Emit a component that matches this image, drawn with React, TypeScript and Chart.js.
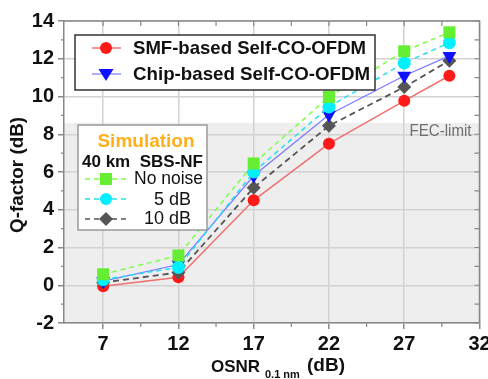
import React, { useEffect, useRef } from "react";
import { Chart, registerables } from "chart.js";

Chart.register(...registerables);

const osnr = [7, 12, 17, 22, 27, 30];
const smfQ = [-0.05, 0.42, 4.5, 7.5, 9.77, 11.1];
const chipQ = [0.22, 1.1, 5.8, 9.03, 11.1, 12.15];
const noNoiseQ = [0.58, 1.58, 6.45, 9.98, 12.4, 13.4];
const nf5Q = [0.3, 0.95, 6.0, 9.45, 11.78, 12.85];
const nf10Q = [0.14, 0.68, 5.17, 8.45, 10.5, 11.9];
const xTicks = [7, 12, 17, 22, 27, 32];
const fecLimit = 8.6;

const FONT = "'Liberation Sans', Arial, sans-serif";

function marker(ctx: CanvasRenderingContext2D, kind: string, x: number, y: number, color: string) {
  ctx.save();
  ctx.fillStyle = color;
  ctx.beginPath();
  if (kind === "circle") {
    ctx.arc(x, y, 6, 0, Math.PI * 2);
  } else if (kind === "tri") {
    ctx.moveTo(x - 7.5, y - 5);
    ctx.lineTo(x + 7.5, y - 5);
    ctx.lineTo(x, y + 7);
    ctx.closePath();
  } else if (kind === "square") {
    ctx.rect(x - 6, y - 6, 12, 12);
  } else if (kind === "diamond") {
    ctx.moveTo(x, y - 7);
    ctx.lineTo(x + 7, y);
    ctx.lineTo(x, y + 7);
    ctx.lineTo(x - 7, y);
    ctx.closePath();
  }
  ctx.fill();
  ctx.restore();
}

function seg(ctx: CanvasRenderingContext2D, x1: number, x2: number, y: number, color: string, dash: number[], w: number) {
  ctx.save();
  ctx.strokeStyle = color;
  ctx.lineWidth = w;
  ctx.setLineDash(dash);
  ctx.beginPath();
  ctx.moveTo(x1, y);
  ctx.lineTo(x2, y);
  ctx.stroke();
  ctx.restore();
}

const decorPlugin = {
  id: "decor",
  beforeDraw(chart: any) {
    const { ctx, chartArea: a, scales } = chart;
    const yF = scales.y.getPixelForValue(fecLimit);
    ctx.save();
    ctx.fillStyle = "#ffffff";
    ctx.fillRect(a.left, a.top, a.right - a.left, yF - a.top);
    ctx.fillStyle = "#eeeeee";
    ctx.fillRect(a.left, yF, a.right - a.left, a.bottom - yF);
    ctx.restore();
  },
  afterDatasetsDraw(chart: any) {
    const { ctx, chartArea: a, scales } = chart;
    const xs = scales.x;
    const ys = scales.y;
    ctx.save();
    // FEC text
    ctx.fillStyle = "#707070";
    ctx.font = `17px ${FONT}`;
    ctx.textAlign = "right";
    ctx.textBaseline = "middle";
    ctx.fillText("FEC-limit", a.right - 8, ys.getPixelForValue(fecLimit) + 8, 62);

    // borders top/right
    ctx.strokeStyle = "#888888";
    ctx.lineWidth = 1.5;
    ctx.beginPath();
    ctx.moveTo(a.left, a.top);
    ctx.lineTo(a.right, a.top);
    ctx.lineTo(a.right, a.bottom);
    ctx.stroke();
    // minor & mirror ticks
    ctx.lineWidth = 1.2;
    ctx.beginPath();
    for (let v = -1; v <= 13; v += 2) {
      const p = ys.getPixelForValue(v);
      ctx.moveTo(a.left - 3, p);
      ctx.lineTo(a.left, p);
    }
    for (let v = -2; v <= 14; v += 1) {
      const p = ys.getPixelForValue(v);
      ctx.moveTo(a.right - 5, p);
      ctx.lineTo(a.right, p);
    }
    for (let v = 9.5; v < 32; v += 5) {
      const p = xs.getPixelForValue(v);
      ctx.moveTo(p, a.bottom);
      ctx.lineTo(p, a.bottom + 4);
    }
    for (let v = 7; v < 32; v += 2.5) {
      const p = xs.getPixelForValue(v);
      ctx.moveTo(p, a.top);
      ctx.lineTo(p, a.top + 5);
    }
    ctx.stroke();

    // Legend 1
    ctx.fillStyle = "#ffffff";
    ctx.fillRect(75, 35, 300, 55);
    ctx.strokeStyle = "#333333";
    ctx.lineWidth = 1.5;
    ctx.strokeRect(75, 35, 300, 55);
    seg(ctx, 92, 121, 48, "#f07070", [], 1.5);
    marker(ctx, "circle", 106, 48, "#ff1a1a");
    seg(ctx, 92, 121, 74, "#7a7aff", [], 1.2);
    marker(ctx, "tri", 106, 74, "#1010ff");
    ctx.fillStyle = "#111111";
    ctx.font = `bold 19px ${FONT}`;
    ctx.textAlign = "left";
    ctx.textBaseline = "middle";
    ctx.fillText("SMF-based Self-CO-OFDM", 133, 49, 233);
    ctx.fillText("Chip-based Self-CO-OFDM", 133, 75, 237);

    // Legend 2
    ctx.fillStyle = "#ffffff";
    ctx.fillRect(78, 125, 129, 105);
    ctx.strokeStyle = "#999999";
    ctx.lineWidth = 1.5;
    ctx.strokeRect(78, 125, 129, 105);
    ctx.fillStyle = "#ffb01a";
    ctx.font = `bold 19px ${FONT}`;
    ctx.textAlign = "center";
    ctx.fillText("Simulation", 146, 142);
    ctx.fillStyle = "#111111";
    ctx.font = `bold 17px ${FONT}`;
    ctx.textAlign = "left";
    ctx.fillText("40 km", 82, 162);
    ctx.textAlign = "right";
    ctx.fillText("SBS-NF", 203, 162);
    ctx.font = `18px ${FONT}`;
    ctx.fillText("No noise", 203, 179, 69);
    ctx.fillText("5 dB", 191, 200);
    ctx.fillText("10 dB", 191, 219);
    seg(ctx, 85, 127, 179, "#7dff4a", [5, 4], 1.5);
    marker(ctx, "square", 106, 179, "#66ee33");
    seg(ctx, 85, 127, 199, "#22e0f0", [5, 4], 1.5);
    marker(ctx, "circle", 106, 199, "#00f0ff");
    seg(ctx, 85, 127, 219, "#555555", [5, 4], 1.5);
    marker(ctx, "diamond", 106, 219, "#555555");

    // Axis titles
    ctx.fillStyle = "#111111";
    ctx.font = `bold 17px ${FONT}`;
    ctx.textAlign = "left";
    ctx.textBaseline = "alphabetic";
    ctx.fillText("OSNR", 211, 372);
    ctx.font = `bold 11px ${FONT}`;
    ctx.fillText("0.1 nm", 265, 378, 37);
    ctx.font = `bold 19px ${FONT}`;
    ctx.fillText("(dB)", 307, 371, 41);

    ctx.translate(18, 175);
    ctx.rotate(-Math.PI / 2);
    ctx.textAlign = "center";
    ctx.textBaseline = "middle";
    ctx.fillText("Q-factor (dB)", 0, 0, 116);
    ctx.restore();
  },
};

function pts(ys: number[]) {
  return osnr.map((x, i) => ({ x, y: ys[i] }));
}

export default function App() {
  const ref = useRef<HTMLCanvasElement>(null);
  useEffect(() => {
    if (!ref.current) return;
    const chart = new Chart(ref.current, {
      type: "scatter",
      data: {
        datasets: [
          {
            data: pts(noNoiseQ), showLine: true, borderColor: "#7dff4a", borderWidth: 1.5, borderDash: [5, 4],
            pointStyle: "rect", pointRadius: 8.5, backgroundColor: "#66ee33", pointBorderWidth: 0,
          },
          {
            data: pts(nf5Q), showLine: true, borderColor: "#22e0f0", borderWidth: 1.5, borderDash: [5, 4],
            pointStyle: "circle", pointRadius: 6.5, backgroundColor: "#00f0ff", pointBorderWidth: 0,
          },
          {
            data: pts(chipQ), showLine: true, borderColor: "#7a7aff", borderWidth: 1.2,
            pointStyle: "triangle", pointRotation: 180, pointRadius: 8, backgroundColor: "#1010ff", pointBorderWidth: 0,
          },
          {
            data: pts(nf10Q), showLine: true, borderColor: "#555555", borderWidth: 1.8, borderDash: [6, 4],
            pointStyle: "rectRot", pointRadius: 7, backgroundColor: "#555555", pointBorderWidth: 0,
          },
          {
            data: pts(smfQ), showLine: true, borderColor: "#f07070", borderWidth: 1.5,
            pointStyle: "circle", pointRadius: 6, backgroundColor: "#ff1a1a", pointBorderWidth: 0,
          },
        ],
      },
      options: {
        animation: false,
        responsive: false,
        maintainAspectRatio: false,
        layout: { padding: { top: 21, right: 8, left: 0, bottom: 0 } },
        plugins: { legend: { display: false }, tooltip: { enabled: false } },
        scales: {
          x: {
            type: "linear",
            min: 4.4,
            max: 32,
            afterBuildTicks: (s: any) => {
              s.ticks = xTicks.map((v) => ({ value: v }));
            },
            afterFit: (s: any) => {
              s.height = 56;
              s.paddingLeft = 0;
              s.paddingRight = 0;
            },
            ticks: {
              color: "#111111",
              font: { family: FONT, size: 20, weight: "bold" },
              padding: 3,
              maxRotation: 0,
              autoSkip: false,
            },
            grid: { color: "#d2d2d2", lineWidth: 1.5, tickColor: "#888888", tickLength: 6 },
            border: { color: "#888888", width: 1.5 },
          },
          y: {
            min: -2,
            max: 14,
            afterFit: (s: any) => {
              s.width = 64;
              s.paddingTop = 0;
              s.paddingBottom = 0;
            },
            ticks: {
              stepSize: 2,
              color: "#111111",
              font: { family: FONT, size: 20, weight: "bold" },
              padding: 4,
            },
            grid: { color: "#d2d2d2", lineWidth: 1.5, tickColor: "#888888", tickLength: 6 },
            border: { color: "#888888", width: 1.5 },
          },
        },
      },
      plugins: [decorPlugin],
    } as any);
    return () => chart.destroy();
  }, []);
  return (
    <div style={{ position: "fixed", left: 0, top: 0, width: 488, height: 379, background: "#ffffff" }}>
      <canvas ref={ref} width={488} height={379} style={{ width: 488, height: 379, display: "block" }} />
    </div>
  );
}
